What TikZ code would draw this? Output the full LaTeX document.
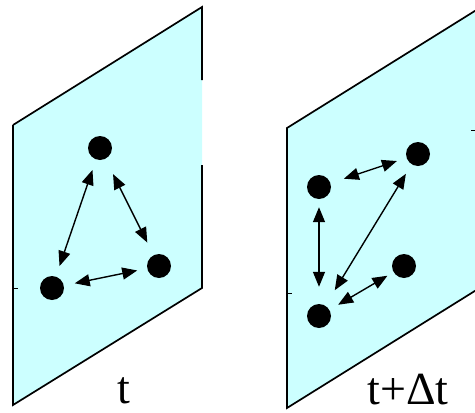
\documentclass[tikz,border=0pt]{standalone}
\usepackage{fontspec}
\setmainfont{Liberation Serif}
\usetikzlibrary{arrows.meta}
\definecolor{planecyan}{RGB}{204,255,255}
\begin{document}
\begin{tikzpicture}[x=1pt, y=-1pt,
    plane/.style={fill=planecyan, draw=none},
    edge/.style={line width=1.7pt},
    dot/.style={circle, fill=black, minimum size=24pt, inner sep=0pt},
    link/.style={line width=1.4pt, {Triangle[length=15pt,width=12pt]}-{Triangle[length=15pt,width=12pt]}, shorten <=11pt, shorten >=11pt},
    lbl/.style={font=\fontsize{46}{50}\selectfont, anchor=base, inner sep=0pt}]
    \useasboundingbox (0,0) rectangle (475,413);
    % Plane at time t
    \fill[plane] (13,125) -- (202,7) -- (202,288) -- (13,405) -- cycle;
    \draw[edge] (13,125) -- (202,7) -- (202,80);
    \draw[edge] (202,165) -- (202,288) -- (13,405) -- (13,125);
    \draw[line width=1pt] (13,288) -- (18,288);
    % Plane at time t+dt
    \fill[plane] (287,128) -- (478,9) -- (478,289) -- (287,408) -- cycle;
    \draw[edge] (478,9) -- (287,128) -- (287,408) -- (478,289);
    \draw[line width=1pt] (287,293) -- (292,293);
    \draw[line width=1pt] (471,130) -- (476,130);
    % Particles at t
    \node[dot] (a1) at (100,148) {};
    \node[dot] (b1) at (52,288) {};
    \node[dot] (c1) at (159,266) {};
    \draw[link] (b1) -- (a1);
    \draw[link, shorten <=17pt, shorten >=14pt] (a1) -- (c1);
    \draw[link, shorten >=10pt] (b1) -- (c1);
    % Particles at t+dt
    \node[dot] (a2) at (319,187) {};
    \node[dot] (b2) at (418,154) {};
    \node[dot] (c2) at (404,266) {};
    \node[dot] (d2) at (319,316) {};
    \draw[link, shorten <=14pt, shorten >=10pt] (a2) -- (b2);
    \draw[link, shorten <=8pt, shorten >=17pt] (a2) -- (d2);
    \draw[link, shorten >=18pt] (b2) -- (d2);
    \draw[link, shorten <=7pt, shorten >=10pt] (c2) -- (d2);
    % Labels
    \node[lbl] (tl) at (124,403) {t};
    \node[lbl] (tr) at (408,404) {t+Δt};
\end{tikzpicture}
\end{document}
